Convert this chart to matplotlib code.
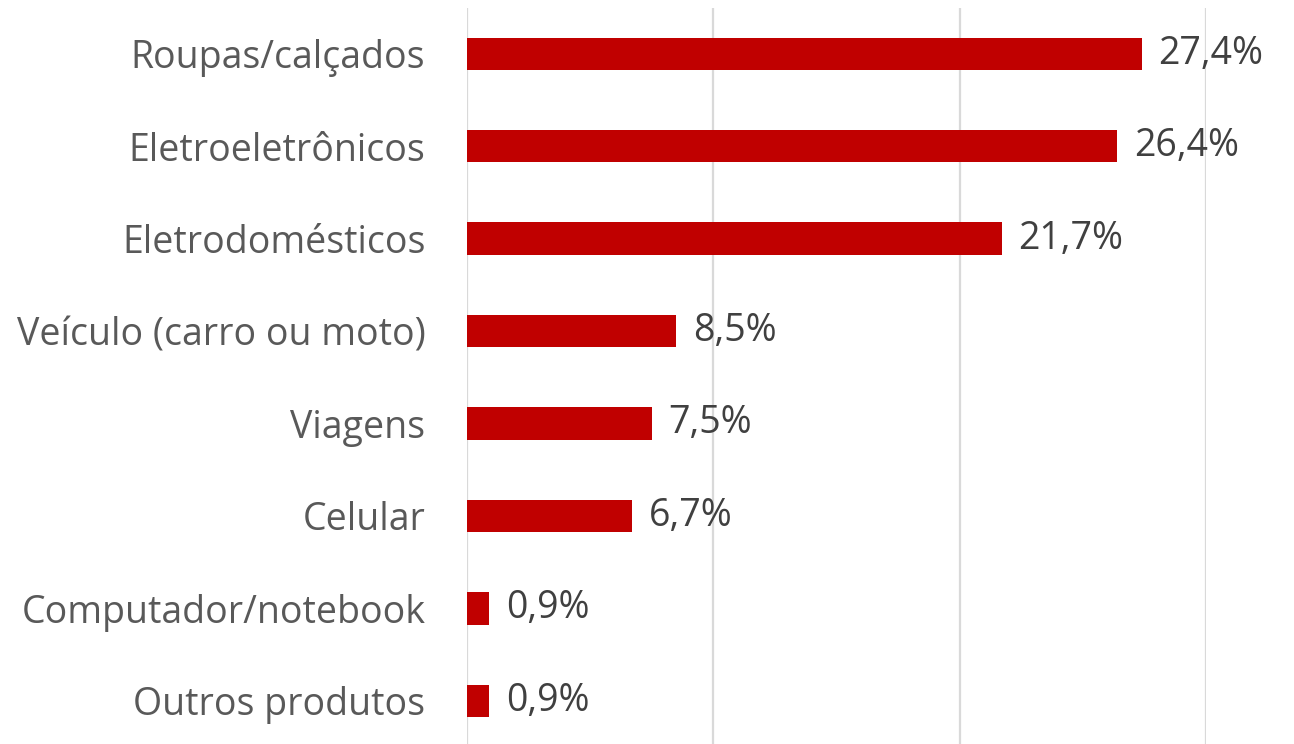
import matplotlib.pyplot as plt

categories = [
    "Roupas/calçados",
    "Eletroeletrônicos",
    "Eletrodomésticos",
    "Veículo (carro ou moto)",
    "Viagens",
    "Celular",
    "Computador/notebook",
    "Outros produtos",
]
values = [27.4, 26.4, 21.7, 8.5, 7.5, 6.7, 0.9, 0.9]
value_labels = ["27,4%", "26,4%", "21,7%", "8,5%", "7,5%", "6,7%", "0,9%", "0,9%"]

W, H = 1294, 744
fig = plt.figure(figsize=(W / 100, H / 100), dpi=100)
ax = fig.add_axes([467 / W, -3 / H, (1206 - 467) / W, 739.5 / H])

ypos = list(range(len(categories)))
ax.barh(ypos, values, height=0.35, color="#C00000", zorder=3)

ax.set_xlim(0, 30)
ax.set_ylim(len(categories) - 0.5, -0.5)
ax.set_xticks([0, 10, 20, 30])
ax.xaxis.grid(True, color="#D9D9D9", linewidth=1.6, zorder=0)
ax.tick_params(axis="x", length=0, labelbottom=False)
ax.tick_params(axis="y", length=0, pad=30)
ax.set_yticks(ypos)
ax.set_yticklabels(categories, fontsize=27, color="#595959", family="Open Sans")
for s in ax.spines.values():
    s.set_visible(False)

for y, v, lab in zip(ypos, values, value_labels):
    ax.annotate(lab, xy=(v, y), xytext=(12, 0), textcoords="offset points",
                va="center", ha="left", fontsize=27, color="#404040",
                family="Open Sans", clip_on=False)

fig.savefig("out.png", dpi=100, facecolor="white")
